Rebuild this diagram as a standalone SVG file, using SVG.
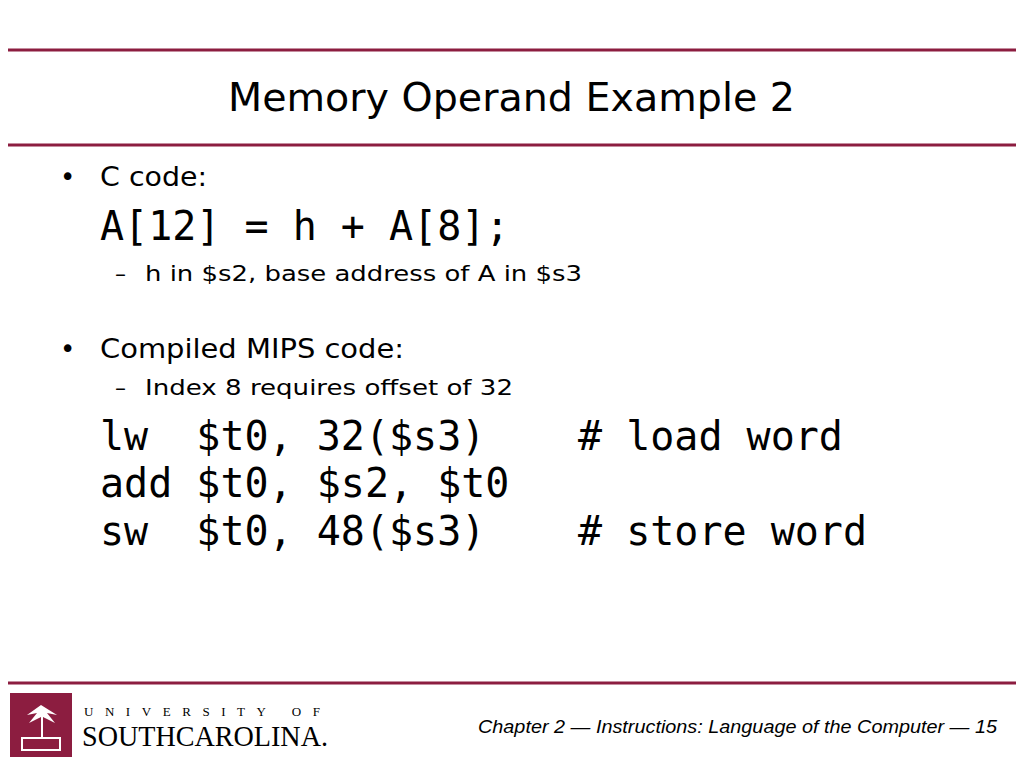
<svg xmlns="http://www.w3.org/2000/svg" width="1024" height="768" viewBox="0 0 1024 768">
<style>
.r{stroke:#8c1d40;stroke-width:3}
.s{font-family:"DejaVu Sans",Verdana,sans-serif;fill:#000}
.m{font-family:"DejaVu Sans Mono",monospace;font-size:40px;fill:#000}
</style>
<rect width="1024" height="768" fill="#fff"/>
<line class="r" x1="8" y1="50" x2="1016" y2="50"/>
<line class="r" x1="8" y1="145" x2="1016" y2="145"/>
<line class="r" x1="8" y1="683" x2="1016" y2="683"/>
<text class="s" x="228" y="111" font-size="39" textLength="567" lengthAdjust="spacingAndGlyphs">Memory Operand Example 2</text>
<g id="text">
<text class="s" x="60" y="186" font-size="26">•</text>
<text class="s" x="100" y="186" font-size="26" textLength="107" lengthAdjust="spacingAndGlyphs">C code:</text>
<text class="m" x="100" y="240" xml:space="preserve">A[12] = h + A[8];</text>
<text class="s" x="115" y="281" font-size="22">–</text>
<text class="s" x="145" y="281" font-size="22" textLength="437" lengthAdjust="spacingAndGlyphs">h in $s2, base address of A in $s3</text>
<text class="s" x="60" y="358" font-size="26">•</text>
<text class="s" x="100" y="358" font-size="26" textLength="304" lengthAdjust="spacingAndGlyphs">Compiled MIPS code:</text>
<text class="s" x="115" y="395" font-size="22">–</text>
<text class="s" x="145" y="395" font-size="22" textLength="368" lengthAdjust="spacingAndGlyphs">Index 8 requires offset of 32</text>
<text class="m" x="100" y="450" xml:space="preserve">lw  $t0, 32($s3)</text>
<text class="m" x="578" y="450">#&#160;load word</text>
<text class="m" x="100" y="497" xml:space="preserve">add $t0, $s2, $t0</text>
<text class="m" x="100" y="545" xml:space="preserve">sw  $t0, 48($s3)</text>
<text class="m" x="578" y="545">#&#160;store word</text>
</g>
<g id="logo">
<rect x="10" y="693" width="62" height="64" fill="#8c1d40"/>
<path d="M41 705 l-14 10 l10 -2 l-8 10 l12 -6 l0 20 l2 0 l0 -20 l12 6 l-8 -10 l10 2 z" fill="#fff"/>
<rect x="22" y="738" width="38" height="12" fill="none" stroke="#fff" stroke-width="2"/>
<text x="84" y="716" font-family="Liberation Serif,serif" font-size="13" fill="#000" textLength="236" lengthAdjust="spacing">UNIVERSITY OF</text>
<text x="82" y="746" font-family="Liberation Serif,serif" font-size="30" fill="#000" textLength="246" lengthAdjust="spacingAndGlyphs">SOUTHCAROLINA.</text>
</g>
<text x="478" y="733" font-family="Liberation Sans,Arial,sans-serif" font-style="italic" font-size="19" fill="#000" textLength="519" lengthAdjust="spacingAndGlyphs">Chapter 2 — Instructions: Language of the Computer — 15</text>
</svg>
